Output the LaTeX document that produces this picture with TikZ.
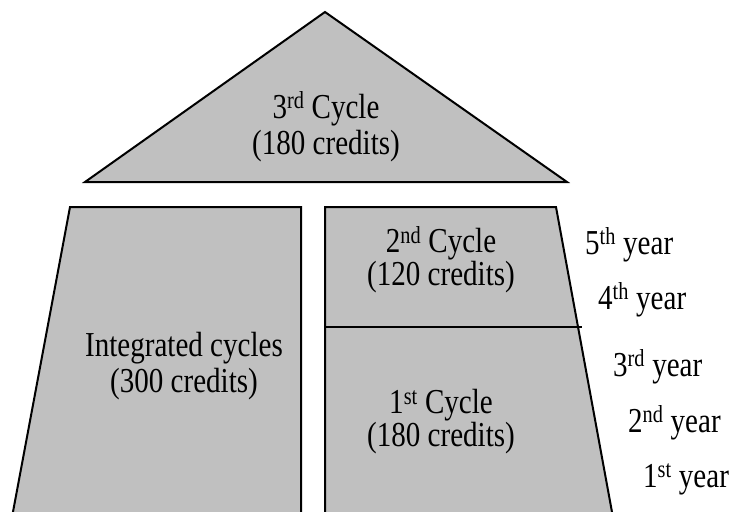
\documentclass[tikz,border=0pt]{standalone}
\usepackage{fontspec}
\setmainfont{Liberation Serif}
\definecolor{boxgray}{HTML}{C0C0C0}
\begin{document}
\begin{tikzpicture}[x=1pt,y=-1pt,
  block/.style={fill=boxgray,draw=black,line width=2pt,line join=miter},
  lbl/.style={align=center,anchor=base,inner sep=0pt,xscale=0.83,transform shape},
  yr/.style={font=\fontsize{35}{36}\selectfont,anchor=base west,inner sep=0pt,xscale=0.83,transform shape}]
\useasboundingbox (0,0) rectangle (732,512);
\clip (0,0) rectangle (732,512);
% shapes
\draw[block] (325,12) -- (567,182) -- (85,182) -- cycle;
\draw[block] (70,207) -- (301,207) -- (301,530) -- (9.6,530) -- cycle;
\draw[block] (325,207) -- (556,207) -- (615.3,530) -- (325,530) -- cycle;
\coordinate (divL) at (325,327);
\coordinate (divR) at (582,327);
\draw[line width=2pt] (divL) -- (divR);
% labels (anchor = baseline of last line)
\node[lbl,font=\fontsize{35}{36}\selectfont] (third) at (326,154) {3\textsuperscript{rd} Cycle\\(180 credits)};
\node[lbl,font=\fontsize{35}{36}\selectfont] (integ) at (184,392) {Integrated cycles\\(300 credits)};
\node[lbl,font=\fontsize{35}{30}\selectfont] (second) at (441,285) {2\textsuperscript{nd} Cycle\\(120 credits)};
\node[lbl,font=\fontsize{35}{30}\selectfont] (first) at (441,446) {1\textsuperscript{st} Cycle\\(180 credits)};
% years
\node[yr] (y5) at (585,254) {5\textsuperscript{th} year};
\node[yr] (y4) at (598,309) {4\textsuperscript{th} year};
\node[yr] (y3) at (613,376) {3\textsuperscript{rd} year};
\node[yr] (y2) at (628,432) {2\textsuperscript{nd} year};
\node[yr] (y1) at (643,487) {1\textsuperscript{st} year};
\end{tikzpicture}
\end{document}
